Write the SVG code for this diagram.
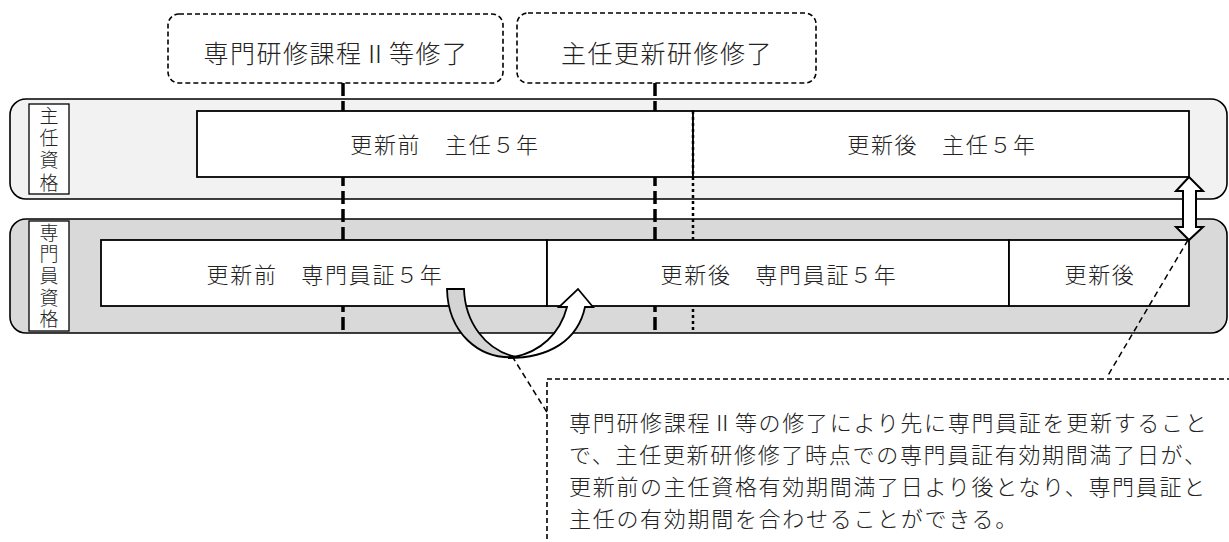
<svg xmlns="http://www.w3.org/2000/svg" width="1229" height="542" viewBox="0 0 1229 542">
<style>
text{font-family:"Noto Sans CJK JP","Noto Sans CJK SC",sans-serif;fill:#222;font-weight:300;}
.t{font-size:22px;letter-spacing:1.7px;text-anchor:middle;}
.h{font-size:25px;letter-spacing:1.5px;text-anchor:middle;}
.v{font-size:19px;writing-mode:vertical-rl;}
.c{font-size:22px;letter-spacing:1.7px;}
.box{fill:#fff;stroke:#000;stroke-width:1.8;}
.dbox{fill:none;stroke:#000;stroke-width:1.6;stroke-dasharray:5 3;}
.heavy{stroke:#000;stroke-width:3.5;stroke-dasharray:13 5;fill:none;}
.dot{stroke:#000;stroke-width:2.5;stroke-dasharray:3 3;fill:none;}
.lead{stroke:#000;stroke-width:1.5;stroke-dasharray:6 4;fill:none;}
</style>
<rect width="1229" height="542" fill="#fff"/>
<g id="band-shunin">
<rect x="10" y="99" width="1217" height="100" rx="16" fill="#f2f2f2" stroke="#000" stroke-width="1.6"/>
</g>
<g id="band-senmon">
<rect x="10" y="219" width="1217" height="114" rx="16" fill="#d9d9d9" stroke="#000" stroke-width="1.6"/>
</g>
<g id="connectors">
<path class="heavy" d="M343,83 V333"/>
<path class="heavy" d="M655,83 V333"/>
</g>
<g id="shunin-before">
<rect class="box" x="197" y="111" width="496" height="66"/>
<text class="t" x="445" y="153">更新前　主任５年</text>
</g>
<g id="shunin-after">
<rect class="box" x="693" y="111" width="496" height="66"/>
<text class="t" x="942" y="153">更新後　主任５年</text>
</g>
<g id="dotted-line">
<path class="dot" d="M693,111 V333"/>
</g>
<g id="senmon-before">
<rect class="box" x="101" y="240" width="446" height="66"/>
<text class="t" x="325" y="283">更新前　専門員証５年</text>
</g>
<g id="senmon-after">
<rect class="box" x="547" y="240" width="462" height="66"/>
<text class="t" x="779" y="283">更新後　専門員証５年</text>
</g>
<g id="senmon-after2">
<rect class="box" x="1009" y="240" width="180" height="66"/>
<text class="t" x="1100" y="283">更新後</text>
</g>
<g id="label-shunin">
<rect x="29" y="104" width="40" height="90" fill="#fff" stroke="#000" stroke-width="1.3"/>
<text class="v" x="49" y="106" style="letter-spacing:3.3px">主任資格</text>
</g>
<g id="label-senmon">
<rect x="29" y="221" width="40" height="110" fill="#fff" stroke="#000" stroke-width="1.3"/>
<text class="v" x="49" y="223" style="letter-spacing:2.6px">専門員資格</text>
</g>
<g id="event-senmon">
<rect class="dbox" x="168" y="14" width="335" height="69" rx="11"/>
<text class="h" x="336" y="63">専門研修課程Ⅱ等修了</text>
</g>
<g id="event-shunin">
<rect class="dbox" x="517" y="13" width="299" height="70" rx="11"/>
<text class="h" x="667" y="63">主任更新研修修了</text>
</g>
<g id="double-arrow">
<path d="M1189,177 L1203,191 L1196,191 L1196,227 L1203,227 L1189,240 L1176,227 L1183,227 L1183,191 L1176,191 Z" fill="#fff" stroke="#000" stroke-width="2" stroke-linejoin="miter"/>
</g>
<g id="u-arrow">
<path d="M508,358 C550,358 578,340 585,307 L593,307 L578,289 L559,307 L567,307 C560,334 540,352 514,357 Z" fill="#fff" stroke="#000" stroke-width="1.8"/>
<path d="M447,289 L464,289 C465,322 485,350 516,357 C478,360 448,332 447,289 Z" fill="#d4d4d4" stroke="#000" stroke-width="1.8"/>
</g>
<g id="leaders">
<path class="lead" d="M512,356 L548,414"/>
<path class="lead" d="M1188,240 L1107,377"/>
</g>
<g id="callout">
<rect class="dbox" x="547" y="379" width="700" height="200"/>
<text class="c" x="569" y="431">専門研修課程Ⅱ等の修了により先に専門員証を更新すること</text>
<text class="c" x="569" y="463">で、主任更新研修修了時点での専門員証有効期間満了日が、</text>
<text class="c" x="569" y="495">更新前の主任資格有効期間満了日より後となり、専門員証と</text>
<text class="c" x="569" y="527">主任の有効期間を合わせることができる。</text>
</g>
</svg>
